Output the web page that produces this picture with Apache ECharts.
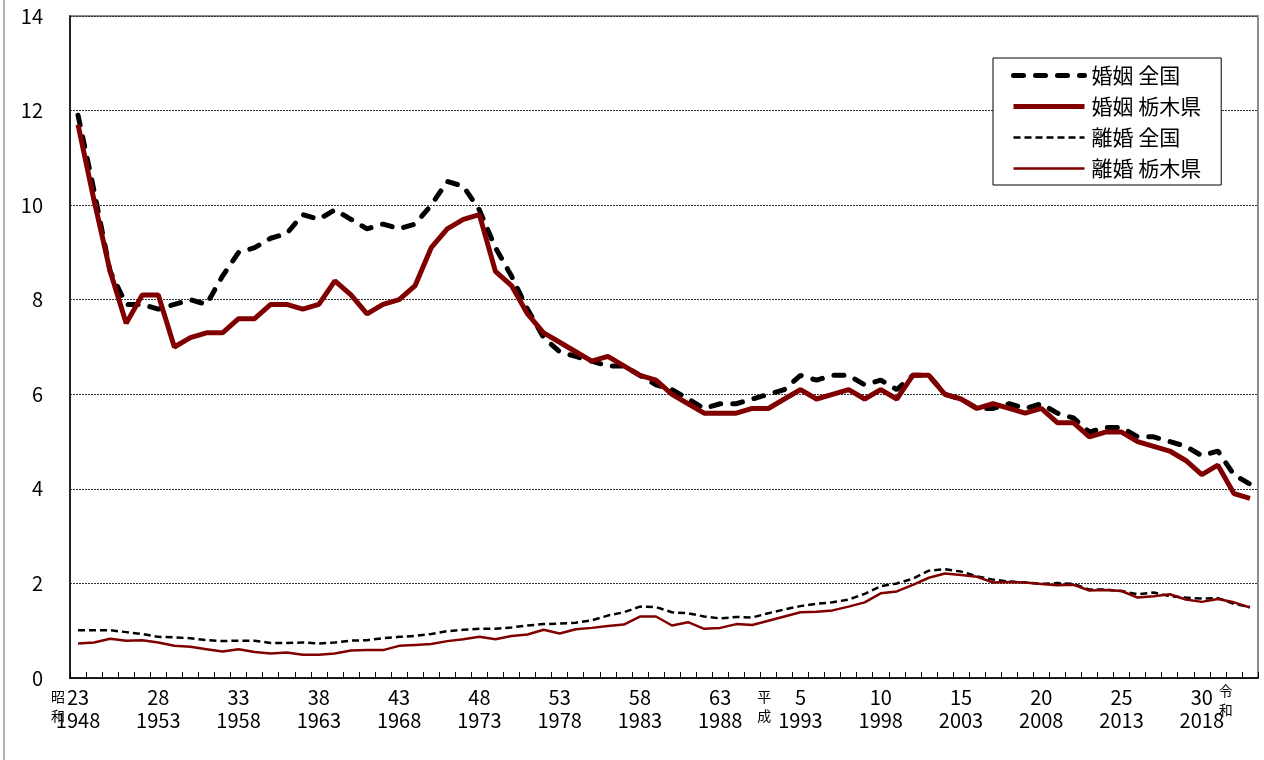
<!DOCTYPE html>
<html>
<head>
<meta charset="utf-8">
<script src="https://cdn.jsdelivr.net/npm/echarts@6/dist/echarts.min.js"></script>
<style>
html,body{margin:0;padding:0;background:#fff;}
#main{width:1264px;height:760px;}
</style>
</head>
<body>
<div id="main"></div>
<script>
const years = ['1948','1949','1950','1951','1952','1953','1954','1955','1956','1957','1958','1959','1960','1961','1962','1963','1964','1965','1966','1967','1968','1969','1970','1971','1972','1973','1974','1975','1976','1977','1978','1979','1980','1981','1982','1983','1984','1985','1986','1987','1988','1989','1990','1991','1992','1993','1994','1995','1996','1997','1998','1999','2000','2001','2002','2003','2004','2005','2006','2007','2008','2009','2010','2011','2012','2013','2014','2015','2016','2017','2018','2019','2020','2021'];

const marriageJapan = [11.9,10.3,8.6,7.9,7.9,7.8,7.9,8.0,7.9,8.5,9.0,9.1,9.3,9.4,9.8,9.7,9.9,9.7,9.5,9.6,9.5,9.6,10.0,10.5,10.4,9.9,9.1,8.5,7.8,7.2,6.9,6.8,6.7,6.6,6.6,6.4,6.2,6.1,5.9,5.7,5.8,5.8,5.9,6.0,6.1,6.4,6.3,6.4,6.4,6.2,6.3,6.1,6.4,6.4,6.0,5.9,5.7,5.7,5.8,5.7,5.8,5.6,5.5,5.2,5.3,5.3,5.1,5.1,5.0,4.9,4.7,4.8,4.3,4.1];

const marriageTochigi = [11.7,10.1,8.6,7.5,8.1,8.1,7.0,7.2,7.3,7.3,7.6,7.6,7.9,7.9,7.8,7.9,8.4,8.1,7.7,7.9,8.0,8.3,9.1,9.5,9.7,9.8,8.6,8.3,7.7,7.3,7.1,6.9,6.7,6.8,6.6,6.4,6.3,6.0,5.8,5.6,5.6,5.6,5.7,5.7,5.9,6.1,5.9,6.0,6.1,5.9,6.1,5.9,6.4,6.4,6.0,5.9,5.7,5.8,5.7,5.6,5.7,5.4,5.4,5.1,5.2,5.2,5.0,4.9,4.8,4.6,4.3,4.5,3.9,3.8];

const divorceJapan = [1.01,1.01,1.01,0.97,0.93,0.87,0.86,0.84,0.80,0.78,0.79,0.79,0.74,0.74,0.75,0.73,0.75,0.79,0.80,0.84,0.87,0.89,0.93,0.99,1.02,1.04,1.04,1.07,1.11,1.14,1.15,1.17,1.22,1.32,1.39,1.51,1.50,1.39,1.37,1.30,1.26,1.29,1.28,1.37,1.45,1.52,1.57,1.60,1.66,1.78,1.94,2.00,2.10,2.27,2.30,2.25,2.15,2.08,2.04,2.02,1.99,2.01,1.99,1.87,1.87,1.84,1.77,1.81,1.73,1.70,1.68,1.69,1.57,1.50];

const divorceTochigi = [0.73,0.75,0.83,0.79,0.80,0.75,0.68,0.66,0.61,0.56,0.61,0.55,0.52,0.54,0.49,0.49,0.52,0.58,0.59,0.59,0.68,0.70,0.72,0.78,0.82,0.87,0.82,0.89,0.92,1.02,0.94,1.03,1.06,1.10,1.13,1.30,1.30,1.11,1.18,1.04,1.06,1.14,1.12,1.21,1.30,1.39,1.40,1.43,1.51,1.60,1.79,1.83,1.97,2.12,2.21,2.18,2.14,2.02,2.03,2.02,1.99,1.96,1.97,1.85,1.86,1.84,1.70,1.73,1.77,1.66,1.61,1.67,1.60,1.49];

const tickYears = ['1948','1953','1958','1963','1968','1973','1978','1983','1988','1993','1998','2003','2008','2013','2018'];
const tickEraYears = ['23','28','33','38','43','48','53','58','63','5','10','15','20','25','30'];

const seriesNames = ['婚姻 全国','婚姻 栃木県','離婚 全国','離婚 栃木県'];

const eraNames = ['昭\n和','平\n成','令\n和'];
const eraAnchorYears = ['1948','1991','2019'];

const FONT = '"Noto Sans CJK JP", "Noto Sans", sans-serif';
const RED = '#800000';

const chart = echarts.init(document.getElementById('main'), null, {renderer:'canvas'});

const option = {
  backgroundColor: '#fff',
  animation: false,
  textStyle: {fontFamily: FONT, color: '#000'},
  grid: {left: 70, right: 6, top: 16, bottom: 82, show: true, borderColor: '#8c8c8c', borderWidth: 2, backgroundColor: 'transparent'},
  legend: {
    orient: 'vertical',
    left: 993, top: 58,
    data: seriesNames,
    backgroundColor: '#fff',
    borderColor: '#000', borderWidth: 1,
    padding: [7, 20, 6, 18],
    itemWidth: 71, itemHeight: 14, itemGap: 10,
    itemStyle: {opacity: 0},
    lineStyle: {width: 'inherit', type: 'inherit', cap: 'inherit'},
    textStyle: {fontFamily: FONT, fontSize: 21, color: '#000', lineHeight: 21, padding: [0,0,0,2]}
  },
  xAxis: {
    type: 'category',
    data: years,
    boundaryGap: true,
    axisLine: {show: true, lineStyle: {color: '#000', width: 1.5}},
    axisTick: {show: true, inside: true, length: 6, interval: 0, lineStyle: {color: '#000', width: 1}},
    axisLabel: {
      interval: 0, margin: 8, fontSize: 20, lineHeight: 23, color: '#000', fontFamily: FONT,
      formatter: function (v) {
        const i = tickYears.indexOf(v);
        if (i < 0) return '';
        return tickEraYears[i] + '\n' + v;
      }
    },
    splitLine: {show: false}
  },
  yAxis: {
    type: 'value',
    min: 0, max: 14, interval: 2,
    axisLine: {show: true, lineStyle: {color: '#000', width: 1.5}},
    axisTick: {show: false},
    axisLabel: {margin: 27, fontSize: 20, color: '#000', fontFamily: FONT},
    splitLine: {show: true, lineStyle: {color: '#333', width: 1, type: [2, 1]}}
  },
  series: [
    {name: seriesNames[0], type: 'line', data: marriageJapan, symbol: 'none', z: 3,
     lineStyle: {color: '#000', width: 5, type: [10, 12], cap: 'round'}, itemStyle: {color: '#000'}},
    {name: seriesNames[1], type: 'line', data: marriageTochigi, symbol: 'none', z: 4,
     lineStyle: {color: RED, width: 5, type: 'solid'}, itemStyle: {color: RED}},
    {name: seriesNames[2], type: 'line', data: divorceJapan, symbol: 'none', z: 3,
     lineStyle: {color: '#000', width: 2.5, type: [7, 4]}, itemStyle: {color: '#000'}},
    {name: seriesNames[3], type: 'line', data: divorceTochigi, symbol: 'none', z: 4,
     lineStyle: {color: RED, width: 2.5, type: 'solid'}, itemStyle: {color: RED}}
  ]
};
chart.setOption(option);

const eraOffsets = [-20, -4, 8];
const eraTops = [687, 687, 681];
const graphics = [
  {type: 'line', shape: {x1: 4, y1: 0, x2: 4, y2: 760}, style: {stroke: '#999', lineWidth: 1.5}, silent: true}
];
eraNames.forEach(function (name, i) {
  const px = chart.convertToPixel({xAxisIndex: 0}, eraAnchorYears[i]);
  graphics.push({
    type: 'text', x: px + eraOffsets[i], y: eraTops[i], silent: true,
    style: {text: name, fontSize: 14, lineHeight: 19, fontFamily: FONT, fill: '#000', align: 'center', verticalAlign: 'top'}
  });
});
chart.setOption({graphic: graphics});
</script>
</body>
</html>
